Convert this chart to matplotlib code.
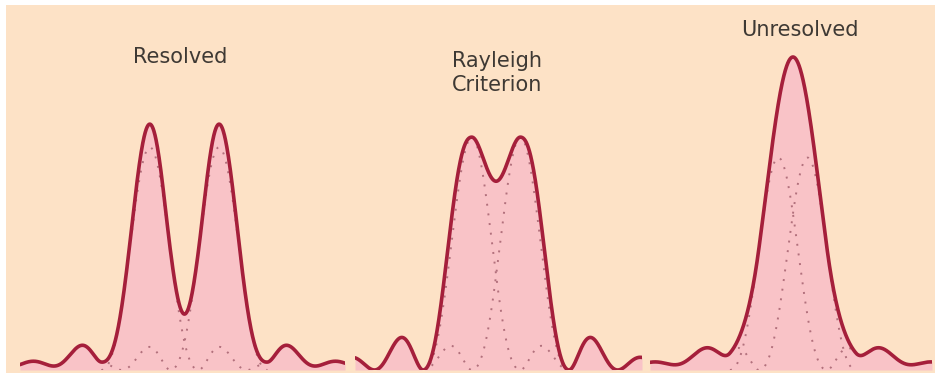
"""Two-point diffraction: resolved, Rayleigh criterion and unresolved images."""
import numpy as np
import matplotlib.pyplot as plt
from matplotlib.patches import Rectangle

# Per-panel values (x in units of the first diffraction zero)
titles = ["Resolved", "Rayleigh\nCriterion", "Unresolved"]
separations = [1.42, 1.0, 0.6]        # distance between the two point images
amplitudes = [0.99, 1.035, 0.944]     # peak intensity of each single image
x_limits = [(-3.38, 3.30), (-2.90, 3.00), (-2.94, 2.86)]
sidelobe_gain = 2.2                   # side rings drawn exaggerated

title_pos = [(180, 57), (497, 73), (800, 30)]   # pixel positions of labels
panel_px = [(20, 345), (355, 642), (650, 932)]  # left/right pixel edges

BG = "#fde2c6"
LINE = "#a51f3b"
FILL = "#f9c3c7"
DOT = "#b2707c"
TEXT = "#3e3934"

W, H = 935, 373
fig = plt.figure(figsize=(W / 100, H / 100), dpi=100, facecolor="white")
fig.patches.append(Rectangle((6 / W, 0), 1, 1 - 5 / H, transform=fig.transFigure,
                             facecolor=BG, edgecolor="none", zorder=-1))


def profile(x):
    """sinc^2 image of a point source, with boosted outer rings."""
    y = np.sinc(x) ** 2
    return np.where(np.abs(x) > 1, y * sidelobe_gain, y)


bottom, top = 370, 5
for i in range(3):
    x0, x1 = panel_px[i]
    ax = fig.add_axes([x0 / W, (H - bottom) / H, (x1 - x0) / W, (bottom - top) / H])
    ax.set_facecolor("none")
    ax.axis("off")
    lo, hi = x_limits[i]
    ax.set_xlim(lo, hi)
    ax.set_ylim(0, (bottom - top) / 225)

    x = np.linspace(lo, hi, 1200)
    c1, c2 = -separations[i] / 2, separations[i] / 2
    a = profile(x - c1) * amplitudes[i]
    b = profile(x - c2) * amplitudes[i]
    total = a + b

    ax.fill_between(x, 0, total, color=FILL, lw=0, zorder=1)
    inner = (x > c1 - 1) & (x < c2 + 1)
    for comp in (a, b):
        ax.plot(x, np.where(inner, comp, np.nan), color=DOT, lw=1.4,
                ls=(0, (1, 4)), zorder=2)
    ax.plot(x, total, color=LINE, lw=2.6, solid_capstyle="round", zorder=3)

    tx, ty = title_pos[i]
    fig.text(tx / W, 1 - ty / H, titles[i], ha="center", va="center",
             fontsize=15, color=TEXT, linespacing=1.3)

fig.savefig("out.png", dpi=100)
